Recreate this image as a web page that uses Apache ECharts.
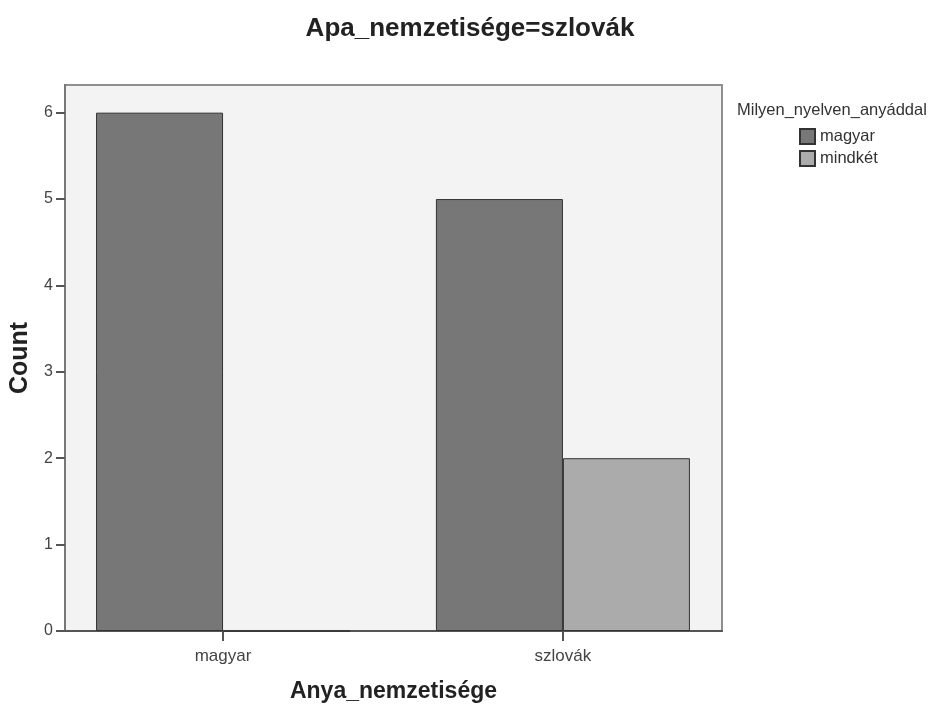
<!DOCTYPE html>
<html>
<head>
<meta charset="utf-8">
<script src="https://cdn.jsdelivr.net/npm/echarts@6/dist/echarts.min.js"></script>
<style>html,body{margin:0;padding:0;background:#fff}#c{width:940px;height:708px}</style>
</head>
<body>
<div id="c"></div>
<script>
var chartTitle = 'Apa_nemzetisége=szlovák';
var categories = ['magyar', 'szlovák'];
var legendTitle = 'Milyen_nyelven_anyáddal';
var seriesNames = ['magyar', 'mindkét'];
var magyarValues = [6, 5];
var mindketValues = [0, 2];
var yTicks = [0, 1, 2, 3, 4, 5, 6];
var xTicks = [0, 1];

var FONT = '"Liberation Sans", Arial, sans-serif';
var chart = echarts.init(document.getElementById('c'), null, {renderer: 'canvas'});
chart.setOption({
  animation: false,
  backgroundColor: '#ffffff',
  title: [{
    text: chartTitle, left: 'center', top: 11,
    textStyle: {fontFamily: FONT, fontSize: 26, fontWeight: 'bold', color: '#222'}
  }, {
    text: legendTitle, left: 732, top: 97,
    textStyle: {fontFamily: FONT, fontSize: 16.5, fontWeight: 'normal', color: '#333'}
  }],
  legend: {
    orient: 'vertical', left: 799, top: 128, padding: 0, itemWidth: 15, itemHeight: 15, itemGap: 5,
    icon: 'rect',
    textStyle: {fontFamily: FONT, fontSize: 16.5, color: '#333'},
    data: seriesNames
  },
  grid: {
    left: 61, right: 218, top: 85, bottom: 75,
    show: true, backgroundColor: '#f3f3f3', borderColor: '#8f8f8f', borderWidth: 2
  },
  xAxis: {
    type: 'value', min: -0.465, max: 1.468,
    name: 'Anya_nemzetisége', nameLocation: 'middle', nameGap: 49,
    nameTextStyle: {fontFamily: FONT, fontSize: 23, fontWeight: 'bold', color: '#222'},
    axisLine: {show: true, onZero: false, lineStyle: {color: '#555', width: 2}},
    axisTick: {show: true, length: 10, customValues: xTicks, lineStyle: {color: '#555', width: 2}},
    axisLabel: {customValues: xTicks, margin: 17, fontFamily: FONT, fontSize: 17, color: '#444',
      formatter: function (v) { return categories[Math.round(v)]; }},
    splitLine: {show: false}
  },
  yAxis: {
    type: 'value', min: 0, max: 6.32,
    name: 'Count', nameLocation: 'middle', nameGap: 32, nameRotate: 90,
    nameTextStyle: {fontFamily: FONT, fontSize: 25, fontWeight: 'bold', color: '#222'},
    axisLine: {show: true, onZero: false, lineStyle: {color: '#777', width: 2}},
    axisTick: {show: true, length: 9, customValues: yTicks, lineStyle: {color: '#555', width: 2}},
    axisLabel: {customValues: yTicks, margin: 12, fontFamily: FONT, fontSize: 16, color: '#444'},
    splitLine: {show: false}
  },
  series: [{
    name: seriesNames[0], type: 'bar', barWidth: 127, barGap: '0%',
    itemStyle: {color: '#777777', borderColor: '#333333', borderWidth: 1},
    data: magyarValues.map(function (v, i) { return [i, v]; })
  }, {
    name: seriesNames[1], type: 'bar', barWidth: 127, barGap: '0%',
    itemStyle: {color: '#ababab', borderColor: '#333333', borderWidth: 1},
    data: mindketValues.map(function (v, i) { return [i, v]; })
  }]
});
</script>
</body>
</html>
